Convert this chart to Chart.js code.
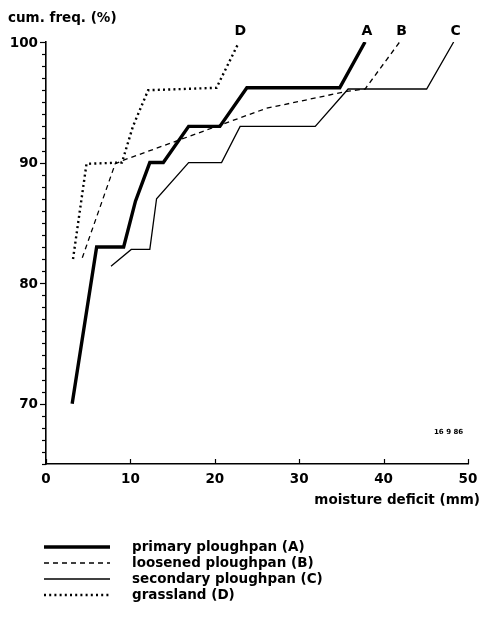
<!DOCTYPE html>
<html>
<head>
<meta charset="utf-8">
<script src="https://cdn.jsdelivr.net/npm/chart.js@4/dist/chart.umd.min.js"></script>
<style>
html,body{margin:0;padding:0;background:#fff;}
canvas{display:block;}
</style>
</head>
<body>
<canvas id="c" width="481" height="621"></canvas>
<script>
// ---- data ----
const seriesLabels = ["primary ploughpan (A)", "loosened ploughpan (B)", "secondary ploughpan (C)", "grassland (D)"];
const seriesTags = ["A", "B", "C", "D"];

const xA = [3.1, 6.0, 9.2, 10.6, 12.3, 13.9, 16.9, 20.6, 23.8, 34.8, 37.8];
const yA = [70.0, 83.0, 83.0, 86.8, 90.0, 90.0, 93.0, 93.0, 96.2, 96.2, 100.0];

const xB = [4.3, 8.2, 9.2, 15.5, 20.6, 26.1, 35.6, 37.8, 41.9];
const yB = [82.1, 89.9, 90.2, 91.8, 93.1, 94.5, 95.9, 96.1, 100.0];

const xC = [7.7, 10.1, 12.3, 13.1, 16.9, 20.8, 23.0, 31.9, 35.8, 45.1, 48.3];
const yC = [81.4, 82.8, 82.8, 87.0, 90.0, 90.0, 93.0, 93.0, 96.1, 96.1, 100.0];

const xD = [3.2, 4.8, 9.0, 10.3, 12.1, 20.2, 22.8];
const yD = [82.0, 89.9, 90.0, 93.0, 96.0, 96.2, 99.9];

const xTicks = [0, 10, 20, 30, 40, 50];
const yTicks = [70, 80, 90, 100];
const yMinorStep = 1;
const xTitle = "moisture deficit (mm)";
const yTitle = "cum. freq. (%)";
const stamp = "16 9 86";

function pts(xs, ys){ return xs.map((x,i)=>({x:x, y:ys[i]})); }

const styles = [
  {borderWidth:3.4, borderDash:[]},
  {borderWidth:1.3, borderDash:[5,4]},
  {borderWidth:1.3, borderDash:[]},
  {borderWidth:2.4, borderDash:[2,3.2]}
];
const allX = [xA, xB, xC, xD], allY = [yA, yB, yC, yD];

const datasets = seriesLabels.map((lab,i)=>({
  label: lab,
  data: pts(allX[i], allY[i]),
  showLine: true,
  borderColor: '#000',
  backgroundColor: '#000',
  borderWidth: styles[i].borderWidth,
  borderDash: styles[i].borderDash,
  borderCapStyle: 'butt',
  borderJoinStyle: 'miter',
  pointRadius: 0,
  tension: 0,
  fill: false
}));

const FONT = '"DejaVu Sans", sans-serif';

const decor = {
  id: 'decor',
  afterDraw(chart){
    const ctx = chart.ctx;
    const xs = chart.scales.x, ys = chart.scales.y;
    const L = chart.chartArea.left, B = chart.chartArea.bottom;
    ctx.save();
    ctx.strokeStyle = '#000';
    ctx.fillStyle = '#000';
    ctx.lineWidth = 1.2;
    // y minor and major ticks (outward)
    for (let v = ys.min; v <= ys.max + 1e-9; v += yMinorStep){
      const p = Math.round(ys.getPixelForValue(v)) + 0.5;
      const major = yTicks.includes(Math.round(v));
      ctx.beginPath();
      ctx.moveTo(L - (major ? 6 : 4), p);
      ctx.lineTo(L, p);
      ctx.stroke();
    }
    // x ticks (inward)
    xTicks.forEach(v=>{
      const p = Math.round(xs.getPixelForValue(v)) + 0.5;
      ctx.beginPath();
      ctx.moveTo(p, B);
      ctx.lineTo(p, B - 5);
      ctx.stroke();
    });
    // tick labels
    ctx.font = 'bold 13.5px ' + FONT;
    ctx.textBaseline = 'middle';
    ctx.textAlign = 'right';
    yTicks.forEach(v=>{
      ctx.fillText(String(v), L - 8, ys.getPixelForValue(v) + 1);
    });
    ctx.textAlign = 'center';
    xTicks.forEach(v=>{
      ctx.fillText(String(v), xs.getPixelForValue(v), B + 15);
    });
    // titles
    ctx.textAlign = 'right';
    ctx.fillText(xTitle, 480, B + 36);
    ctx.textAlign = 'left';
    ctx.fillText(yTitle, 8, 18);
    // series end tags
    ctx.font = 'bold 14px ' + FONT;
    ctx.textAlign = 'center';
    chart.data.datasets.forEach((ds,i)=>{
      const last = ds.data[ds.data.length-1];
      ctx.fillText(seriesTags[i], xs.getPixelForValue(last.x) + 2, 31);
    });
    // stamp
    ctx.font = 'bold 7px ' + FONT;
    ctx.textAlign = 'left';
    ctx.fillText(stamp, 434, 432);
    // legend
    const legY = [547, 563, 579, 595];
    chart.data.datasets.forEach((ds,i)=>{
      ctx.save();
      ctx.lineWidth = ds.borderWidth;
      ctx.setLineDash(ds.borderDash);
      ctx.lineCap = 'butt';
      ctx.beginPath();
      ctx.moveTo(44, legY[i]);
      ctx.lineTo(110, legY[i]);
      ctx.stroke();
      ctx.restore();
      ctx.font = 'bold 13.5px ' + FONT;
      ctx.textAlign = 'left';
      ctx.textBaseline = 'middle';
      ctx.fillText(ds.label, 132, legY[i]);
    });
    ctx.restore();
  }
};

new Chart(document.getElementById('c'), {
  type: 'scatter',
  data: { datasets },
  options: {
    responsive: false,
    animation: false,
    layout: { padding: { left: 46, top: 42, right: 13, bottom: 157 } },
    plugins: { legend: { display: false }, tooltip: { enabled: false } },
    scales: {
      x: {
        type: 'linear', min: 0, max: 50,
        ticks: { display: false, stepSize: 10 },
        grid: { display: false },
        border: { display: true, color: '#000', width: 1.6 },
        afterFit(s){ s.height = 0; }
      },
      y: {
        type: 'linear', min: 65, max: 100,
        ticks: { display: false, stepSize: 1 },
        grid: { display: false },
        border: { display: true, color: '#000', width: 1.6 },
        afterFit(s){ s.width = 0; }
      }
    }
  },
  plugins: [decor]
});
</script>
</body>
</html>
